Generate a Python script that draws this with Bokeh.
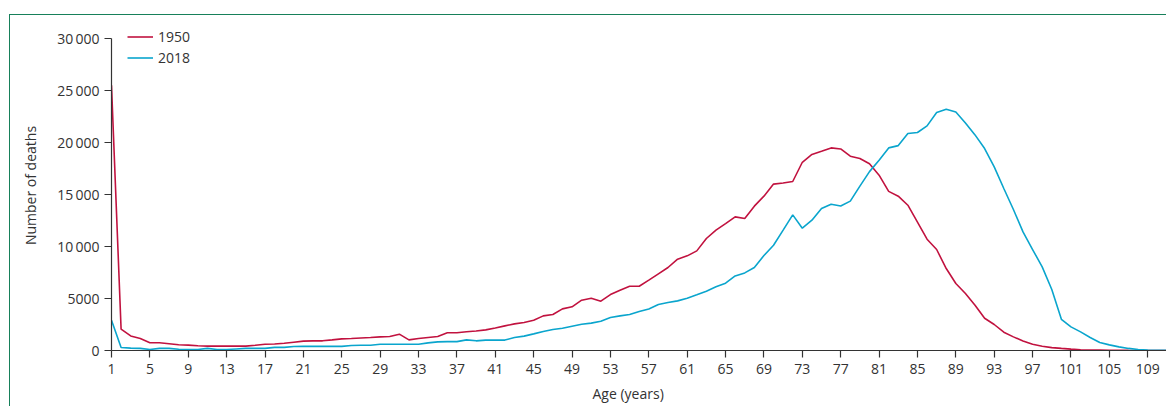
from bokeh.plotting import figure
from bokeh.models import FixedTicker, Range1d, Legend, LegendItem, Title
from bokeh.embed import file_html
from bokeh.resources import INLINE

ages = list(range(1, 112))

deaths_1950 = [
    25500, 2050, 1400, 1150, 750, 750, 650, 550, 520, 450,
    420, 420, 420, 420, 420, 500, 600, 620, 700, 800,
    900, 930, 930, 1020, 1120, 1150, 1200, 1250, 1310, 1350,
    1570, 1020, 1150, 1250, 1350, 1700, 1700, 1800, 1880, 1980,
    2170, 2370, 2560, 2690, 2900, 3330, 3460, 4000, 4200, 4840,
    5030, 4740, 5380, 5800, 6180, 6180, 6760, 7370, 7980, 8780,
    9100, 9580, 10770, 11570, 12200, 12850, 12700, 13880, 14840, 16000,
    16100, 16250, 18100, 18850, 19160, 19480, 19380, 18680, 18460, 17950,
    16860, 15300, 14840, 13970, 12340, 10700, 9710, 7880, 6440, 5480,
    4360, 3100, 2500, 1760, 1310, 920, 600, 410, 280, 200,
    130, 70, 50, 40, 30, 20, 10, 5, 0, 0,
    0,
]

deaths_2018 = [
    2900, 290, 230, 200, 100, 200, 200, 120, 100, 100,
    200, 100, 100, 150, 200, 200, 200, 300, 300, 380,
    400, 400, 400, 400, 400, 480, 500, 500, 600, 600,
    600, 600, 600, 730, 830, 850, 850, 1020, 930, 1000,
    1000, 1000, 1250, 1380, 1600, 1830, 2020, 2140, 2340, 2530,
    2630, 2820, 3170, 3330, 3460, 3750, 4000, 4420, 4610, 4770,
    5030, 5350, 5700, 6120, 6470, 7170, 7460, 7980, 9130, 10120,
    11570, 13040, 11760, 12530, 13650, 14070, 13900, 14360, 15800, 17200,
    18300, 19480, 19700, 20860, 20960, 21600, 22880, 23200, 22940, 21880,
    20730, 19420, 17650, 15580, 13560, 11400, 9710, 8040, 5870, 3000,
    2270, 1790, 1250, 770, 540, 350, 200, 100, 50, 20,
    10,
]

series_names = ["1950", "2018"]
x_ticks = list(range(1, 110, 4))
y_ticks = [0, 5000, 10000, 15000, 20000, 25000, 30000]
y_tick_labels = ["0", "5000", "10\u2009000", "15\u2009000", "20\u2009000", "25\u2009000", "30\u2009000"]
x_title = "Age (years)"
y_title = "Number of deaths"

RED = "#c1123f"
BLUE = "#0aa5cd"
GREEN = "#17805a"
TXT = "#333333"
FONT = "Open Sans"

p = figure(
    width=1157, height=392,
    output_backend="svg", toolbar_location=None,
    x_range=Range1d(1, 111.06), y_range=Range1d(0, 31730),
    min_border_left=101, min_border_right=0, min_border_top=5, min_border_bottom=8,
    styles={"border-top": f"1px solid {GREEN}", "border-left": f"1px solid {GREEN}",
            "margin-top": "14px", "margin-left": "9px"},
)
p.outline_line_color = None
p.xgrid.visible = False
p.ygrid.visible = False
p.background_fill_color = "white"
p.border_fill_color = "white"

r1 = p.line(ages, deaths_1950, line_color=RED, line_width=1.6)
r2 = p.line(ages, deaths_2018, line_color=BLUE, line_width=1.6)

for ax in (p.xaxis[0], p.yaxis[0]):
    ax.axis_line_color = TXT
    ax.axis_line_width = 1.2
    ax.major_tick_line_color = TXT
    ax.major_tick_line_width = 1.2
    ax.major_tick_in = 0
    ax.major_tick_out = 7
    ax.minor_tick_line_color = None
    ax.major_label_text_font = FONT
    ax.major_label_text_font_size = "14px"
    ax.major_label_text_color = TXT
    ax.axis_label_text_font = FONT
    ax.axis_label_text_font_size = "14px"
    ax.axis_label_text_font_style = "normal"
    ax.axis_label_text_color = TXT
    ax.major_label_standoff = 5

p.xaxis.major_label_standoff = 6
p.xaxis.ticker = FixedTicker(ticks=x_ticks)
p.yaxis.ticker = FixedTicker(ticks=y_ticks)
p.yaxis.bounds = (0, 30000)
p.yaxis.major_label_overrides = {t: s for t, s in zip(y_ticks, y_tick_labels)}
p.yaxis.axis_label = y_title
p.yaxis.axis_label_standoff = 14

p.add_layout(Title(
    text=x_title, align="left", offset=481,
    text_font=FONT, text_font_size="14px", text_font_style="normal", text_color=TXT,
), "below")

legend = Legend(
    items=[LegendItem(label=series_names[0], renderers=[r1]),
           LegendItem(label=series_names[1], renderers=[r2])],
    location=(16, 282), orientation="vertical",
    glyph_width=26, glyph_height=21, label_height=21, spacing=0,
    label_standoff=5, padding=0, margin=0,
    border_line_color=None, background_fill_alpha=0,
    label_text_font=FONT, label_text_font_size="14px", label_text_color=TXT,
)
p.add_layout(legend)

open("out.html", "w").write(file_html(p, INLINE))
